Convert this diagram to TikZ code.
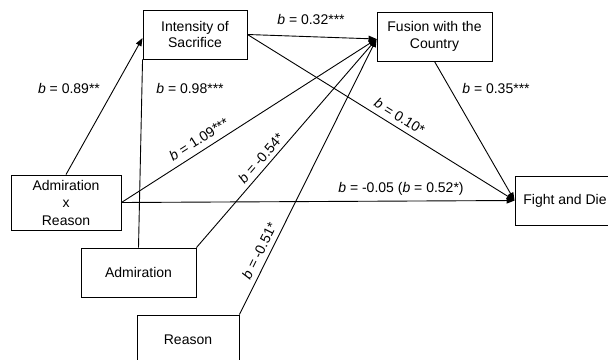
\documentclass[tikz,border=0pt]{standalone}
\usepackage{fontspec}
\setmainfont{Liberation Sans}
\usetikzlibrary{arrows.meta}
\newcommand{\bb}{\textit{b}}
\begin{document}
\begin{tikzpicture}[x=1pt,y=-1pt,
  box/.style={draw, line width=0.9pt, minimum width=#1, minimum height=49pt, inner sep=0pt, align=center, font=\fontsize{14}{16.5}\selectfont},
  conn/.style={line width=0.9pt},
  arr/.style={conn, -{Triangle[length=8pt,width=6pt]}},
  lab/.style={font=\fontsize{14}{16}\selectfont, inner sep=1pt}]
\useasboundingbox (0,0) rectangle (608,359);
\clip (0,0) rectangle (608,359);
% boxes
\node[box=104pt] (int) at (195,34.5) {Intensity of\\Sacrifice};
\node[box=115pt] (fus) at (434.5,36.5) {Fusion with the\\Country};
\node[box=110pt, minimum height=55pt, font=\fontsize{14}{17.5}\selectfont] (axr) at (66,202.5) {Admiration\\x\\Reason};
\node[box=115pt] (adm) at (138.5,272.5) {Admiration};
\node[box=102pt] (rea) at (188,339.5) {Reason};
\node[box=100pt] (fgt) at (565,200.5) {Fight and Die};
% anchor points
\coordinate (fin) at ([yshift=-2.5pt]fus.west);
\coordinate (iin) at ([yshift=-3.5pt]int.west);
% connectors
\draw[arr] (axr.north) -- (iin);
\draw[conn] (adm.north) -- (int.south west);
\draw[arr] (int.east) -- (fin);
\draw[arr] (int.east) -- node[lab, sloped, above=4pt, pos=0.549] {\bb{} = 0.10*} (fgt.west);
\draw[arr] (axr.east) -- node[lab, sloped, above=5pt, pos=0.328] {\bb{} = 1.09***} (fin);
\draw[arr] (adm.north east) -- node[lab, sloped, above=3pt, pos=0.398] {\bb{} = -0.54*} (fin);
\draw[arr] (rea.north east) -- node[lab, sloped, above=4pt, pos=0.214] {\bb{} = -0.51*} (fin);
\draw[arr] (fus.south) -- (fgt.west);
\draw[arr] (axr.east) -- (fgt.west);
% labels
\node[lab] (l089) at (69,88) {\bb{} = 0.89**};
\node[lab] (l098) at (190,88) {\bb{} = 0.98***};
\node[lab] (l032) at (311,19) {\bb{} = 0.32***};
\node[lab] (l035) at (496,88) {\bb{} = 0.35***};
\node[lab] (l005) at (401,189) {\bb{} = -0.05 (\bb{} = 0.52*)};
\end{tikzpicture}
\end{document}
